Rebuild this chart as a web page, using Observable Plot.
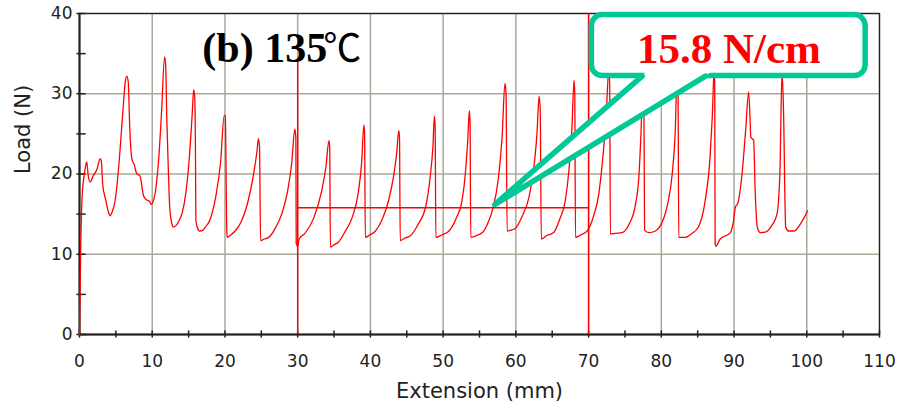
<!DOCTYPE html>
<html>
<head>
<meta charset="utf-8">
<script src="https://cdn.jsdelivr.net/npm/d3@7"></script>
<script src="https://cdn.jsdelivr.net/npm/@observablehq/plot@0.6"></script>
<style>
  html, body { margin: 0; padding: 0; background: #fff; }
  #chart svg { display: block; }
</style>
</head>
<body>
<div id="chart"></div>
<script>
// ---- Data ----
const extension = [
  0, 0.15, 0.35, 0.55, 0.8, 1.0, 1.2, 1.47, 1.9, 2.4, 2.85, 3.0, 3.2, 3.6, 4.0, 4.2, 4.5, 4.9, 5.4, 5.9, 6.3, 6.5, 6.7, 6.9, 7.2, 7.5, 7.9, 8.3, 8.8, 9.2, 9.6, 9.86, 10.1, 10.4,
  10.9, 11.3, 11.7, 11.85, 12.0, 12.2, 12.4, 12.7, 12.9, 13.3, 13.7, 14.1, 14.6, 15.1, 15.5, 15.7, 15.85, 15.95, 16.0, 16.3, 16.5, 17.0, 17.3, 17.8, 18.2, 18.8, 19.4, 19.9, 20.05,
  20.25, 20.3, 20.8, 21.4, 22.2, 23.2, 23.9, 24.4, 24.6, 24.75, 24.9,
  25.4, 26.0, 26.9, 27.8, 28.6, 29.2, 29.6, 29.75, 29.8, 30.0,
  30.2, 31.0, 32.2, 33.3, 33.9, 34.3, 34.4, 34.5,
  35.0, 35.6, 36.5, 37.5, 38.3, 38.8, 39.1, 39.2, 39.3,
  39.9, 40.7, 41.6, 42.5, 43.2, 43.6, 43.9, 44.0, 44.1,
  44.7, 45.5, 46.6, 47.6, 48.2, 48.6, 48.8, 48.9, 49.0,
  49.8, 50.8, 51.8, 52.6, 53.1, 53.4, 53.6, 53.7, 53.8,
  54.5, 55.4, 56.2, 56.9, 57.6, 58.1, 58.5, 58.65, 58.8,
  59.3, 59.9, 60.9, 61.8, 62.5, 62.9, 63.2, 63.35, 63.5,
  64.2, 65.2, 66.0, 66.8, 67.3, 67.7, 68.0, 68.1, 68.2,
  68.9, 69.8, 70.7, 71.4, 71.9, 72.4, 72.8, 72.9, 73.0,
  73.6, 74.6, 75.6, 76.4, 76.9, 77.2, 77.5, 77.6, 77.7,
  78.3, 79.2, 79.9, 80.8, 81.5, 81.9, 82.2, 82.3, 82.4,
  83.3, 84.2, 85.1, 86.0, 86.7, 87.0, 87.3, 87.35, 87.4, 87.5,
  88.1, 89.5, 89.9, 90.2, 90.5, 91.1, 91.6, 92.0, 92.2, 92.3, 92.5, 92.7, 92.9, 93.2, 93.6,
  94.4, 95.2, 95.9, 96.3, 96.6, 96.8, 97.1, 97.5,
  98.3, 99.0, 99.6, 100.1
];
const load = [
  0, 10, 17, 19.2, 20.8, 21.5, 19.8, 19.0, 19.8, 20.6, 21.9, 21.6, 18.6, 16.8, 15.2, 14.8, 15.3, 16.7, 21, 27, 31.5, 32.2, 31.5, 26, 21.9, 21.2, 20.0, 19.8, 17.3, 16.8, 16.6, 16.2, 16.5, 17.6,
  22, 28, 34.6, 33.5, 27, 21, 15.9, 13.8, 13.4, 13.6, 14.2, 15.1, 17.5, 22, 27.5, 30.5, 29.5, 22, 14.2, 13.1, 12.9, 13.0, 13.4, 14.0, 15.0, 17.5, 21.5, 27.3, 27.2,
  13, 12.1, 12.4, 12.9, 14.0, 16.7, 19.8, 22.8, 24.4, 23.5, 11.7,
  11.9, 12.1, 13.2, 15.0, 17.8, 21.5, 25.6, 24.5, 11.3, 11.0,
  11.9, 12.6, 14.5, 17.9, 21, 24.2, 23.2, 10.9,
  11.2, 11.5, 12.8, 14.6, 17.5, 21.5, 26.1, 25, 12.1,
  12.4, 12.9, 14.3, 16.7, 19.8, 22.5, 25.4, 24.5, 11.7,
  12.0, 12.3, 13.8, 15.9, 19.5, 23.5, 27.2, 26, 12.1,
  12.4, 12.9, 14.5, 16.7, 20.5, 24.5, 27.9, 26.5, 12.1,
  12.3, 12.7, 14.0, 15.9, 19.5, 24.5, 31.3, 30, 12.9,
  13.0, 13.2, 14.8, 17.1, 21, 25, 29.7, 28, 11.9,
  12.3, 12.7, 14.3, 16.7, 20.5, 25.5, 31.7, 30, 12.1,
  12.4, 12.9, 14.8, 17.5, 21.5, 27, 33.2, 31, 12.5,
  12.6, 12.7, 13.8, 16, 19.5, 25, 32.8, 30, 13.0,
  12.7, 12.9, 13.6, 16.0, 20.0, 25, 33.0, 30, 12.1,
  12.1, 12.6, 13.4, 16.5, 22.1, 27, 33.5, 30, 11.3, 11.0,
  11.9, 12.7, 14, 15.9, 16.3, 20.0, 25.5, 30.2, 27, 24.6, 24.4, 24.2, 18, 13.4, 12.7,
  12.8, 13.6, 15.0, 20, 32.8, 28, 13.4, 12.9,
  12.9, 13.6, 14.5, 15.4
];

const xTicks = [0, 10, 20, 30, 40, 50, 60, 70, 80, 90, 100, 110];
const xMinorTicks = [0, 5, 10, 15, 20, 25, 30, 35, 40, 45, 50, 55, 60, 65, 70, 75, 80, 85, 90, 95, 100, 105, 110];
const yTicks = [0, 10, 20, 30, 40];
const yMinorTicks = [0, 5, 10, 15, 20, 25, 30, 35, 40];

const xTitle = "Extension (mm)";
const yTitle = "Load (N)";
const panelLabel = "(b) 135";
const panelUnit = "℃";
const calloutText = "15.8 N/cm";

// averaging window markers (x) and the average level (y)
const windowStart = [30];
const windowEnd = [70];
const windowTop = [34.3, 40];
const averageLoad = [15.8];

// callout geometry in data units
const calloutBoxX = [70.45, 108.1];
const calloutBoxY = [32.2, 39.8];
const calloutTip = [57.1, 16.2];
const calloutBaseX = [77.36, 86.07];
const calloutInnerY = 32.75;
const calloutTextPos = [89.3, 35.6];
const panelLabelPos = [34.06, 35.6];

// ---- Build tables ----
const curve = extension.map((x, i) => ({x, y: load[i]}));
const windowRules = [
  {x: windowStart[0], y1: 0, y2: windowTop[0]},
  {x: windowEnd[0], y1: 0, y2: windowTop[1]}
];
const boxRow = [{x1: calloutBoxX[0], x2: calloutBoxX[1], y1: calloutBoxY[0], y2: calloutBoxY[1]}];
const slopeL = (calloutBaseX[0] - calloutTip[0]) / (calloutBoxY[0] - calloutTip[1]);
const slopeR = (calloutBaseX[1] - calloutTip[0]) / (calloutBoxY[0] - calloutTip[1]);
const pointerFill = [
  {x1: calloutTip[0], y1: calloutTip[1], x2: calloutTip[0], y2: calloutTip[1]},
  {x1: calloutTip[0] + slopeL * (calloutInnerY - calloutTip[1]), y1: calloutInnerY,
   x2: calloutTip[0] + slopeR * (calloutInnerY - calloutTip[1]), y2: calloutInnerY}
];
const pointerEdge = [
  {x: calloutBaseX[0], y: calloutBoxY[0]},
  {x: calloutTip[0], y: calloutTip[1]},
  {x: calloutBaseX[1], y: calloutBoxY[0]}
];

const red = "#ff0000";
const teal = "#00c896";
const gridColor = "#aca899";
const axisColor = "#222222";

const chart = Plot.plot({
  width: 898,
  height: 412,
  marginLeft: 79,
  marginRight: 19,
  marginTop: 13,
  marginBottom: 78,
  style: {background: "#ffffff", fontFamily: "'DejaVu Sans', Verdana, sans-serif", overflow: "visible"},
  x: {domain: [0, 110], label: null},
  y: {domain: [0, 40], label: null},
  marks: [
    Plot.gridX(xTicks, {stroke: gridColor, strokeOpacity: 1, strokeWidth: 1.5}),
    Plot.gridY(yTicks, {stroke: gridColor, strokeOpacity: 1, strokeWidth: 1.5}),
    Plot.frame({stroke: axisColor, strokeWidth: 1.3}),
    Plot.ruleX([0], {stroke: axisColor, strokeWidth: 2}),
    Plot.ruleY([0], {stroke: axisColor, strokeWidth: 2}),
    Plot.ruleX(xMinorTicks, {y1: -0.45, y2: 0.45, stroke: axisColor, strokeWidth: 1.5}),
    Plot.ruleY(yMinorTicks, {x1: -0.36, x2: 0.92, stroke: axisColor, strokeWidth: 1.5}),
    Plot.axisX(xTicks, {tickSize: 0, tickPadding: 20, fontSize: 17, color: axisColor, label: null}),
    Plot.axisY(yTicks, {tickSize: 0, tickPadding: 7, fontSize: 17, color: axisColor, label: null}),
    Plot.text([xTitle], {frameAnchor: "bottom", dy: 63, fontSize: 21, fill: axisColor}),
    Plot.text([yTitle], {frameAnchor: "left", dx: -56, rotate: -90, fontSize: 21, fill: axisColor}),
    Plot.ruleX(windowRules, {x: "x", y1: "y1", y2: "y2", stroke: red, strokeWidth: 1.4}),
    Plot.ruleY(averageLoad, {x1: windowStart[0], x2: windowEnd[0], stroke: red, strokeWidth: 1.5}),
    Plot.line(curve, {x: "x", y: "y", stroke: red, strokeWidth: 1.3, curve: "monotone-x"}),
    Plot.text([panelLabel], {x: panelLabelPos[0], y: panelLabelPos[1], textAnchor: "end", fontSize: 42, fontWeight: "bold", fontFamily: "'Liberation Serif', 'Times New Roman', serif", fill: "#000"}),
    Plot.text([panelUnit], {x: panelLabelPos[0], y: panelLabelPos[1], textAnchor: "start", dx: -4, fontSize: 38, fontWeight: "normal", fontFamily: "'Noto Sans CJK SC', 'DejaVu Serif', serif", fill: "#000"}),
    Plot.rect(boxRow, {x1: "x1", x2: "x2", y1: "y1", y2: "y2", fill: "#ffffff", stroke: teal, strokeWidth: 5.5, rx: 11}),
    Plot.area(pointerFill, {x1: "x1", y1: "y1", x2: "x2", y2: "y2", fill: "#ffffff"}),
    Plot.line(pointerEdge, {x: "x", y: "y", stroke: teal, strokeWidth: 5.5, strokeLinejoin: "round"}),
    Plot.text([calloutText], {x: calloutTextPos[0], y: calloutTextPos[1], fontSize: 43, fontWeight: "bold", fontFamily: "'Liberation Serif', 'Times New Roman', serif", fill: red})
  ]
});
document.getElementById("chart").appendChild(chart);
</script>
</body>
</html>
